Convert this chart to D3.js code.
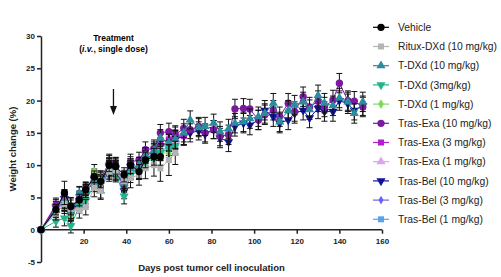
<html>
	<head>
		<script type="text/javascript" src="https://cdn.jsdelivr.net/npm/d3@7/dist/d3.min.js"></script>
		<style>
			body{ margin:0; background:#fff; }
			svg{ font-family:"Liberation Sans", Arial, sans-serif; }
			.axis path, .axis line{ stroke:#222; stroke-width:1.5; }
			.axis text{ font-size:8px; font-weight:bold; fill:#222; }
		</style>
	</head>
	<body>
		<div id="container"></div>
		<script type="text/javascript">

			// measurement days (twice weekly)
			var days = [0,7,11,14,18,21,25,28,32,35,39,42,46,49,53,56,60,63,67,70,74,77,81,84,88,91,95,98,102,105,109,112,116,119,123,126,130,133,137,140,144,147,151];

			var vehicle    = [0,3.1,5.7,3.6,4.6,6.2,8.2,7.5,10.0,9.8,8.5,10.0,9.0,10.8,11.3,11.3];
			var vehicleErr = [0,0.8,1.8,1.3,0.9,0.9,0.9,1.0,1.0,1.2,1.1,1.3,1.1,1.2,1.3,1.3];

			var rituxDXd    = [0,2.5,4.0,3.2,3.0,3.5,6.5,6.0,9.0,9.0,7.5,8.0,8.5,9.5,10.0,9.5,10.8,11.9];
			var rituxDXdErr = [0,1.0,1.5,1.8,1.2,1.2,1.4,1.3,1.5,1.6,1.4,1.5,1.6,1.6,1.7,2.0,2.4,1.8];

			var tdxd10 = [0,3.0,4.5,2.8,5.7,6.0,7.5,6.0,9.5,9.0,7.2,9.5,10.0,11.5,12.3,14.2,13.5,14.0,15.0,17.0,15.8,16.0,16.5,15.2,15.6,16.5,16.7,17.2,17.5,18.0,19.6,16.7,18.5,19.3,19.8,18.6,20.8,19.6,19.2,20.4,19.8,18.0,19.8];
			var tdxd3  = [0,1.3,1.8,0.6,3.6,4.5,7.0,7.2,9.0,8.8,5.2,8.5,9.0,10.5,11.0,12.0,12.5,13.0];
			var tdxd1  = [0,2.5,4.0,2.0,4.0,5.0,9.0,8.0,9.5,9.2,7.5,9.0,9.5,11.0,11.0,12.0,11.8,13.0];

			var trasExa10 = [0,3.8,5.0,3.0,4.8,6.3,8.3,8.0,10.3,10.0,7.0,10.5,10.8,12.4,12.6,15.0,15.2,14.7,15.7,15.5,16.0,15.0,15.5,14.5,14.7,18.7,18.8,18.7,17.0,17.8,18.5,17.5,19.6,18.3,20.6,19.0,19.9,19.0,20.1,22.7,20.0,19.9,19.0];
			var trasExa3  = [0,3.5,4.2,2.6,4.0,5.8,7.5,7.5,10.0,9.5,6.5,9.2,9.0,11.5,12.0,13.5,14.0,14.5,14.5];
			var trasExa1  = [0,4.0,5.0,3.5,5.0,6.0,8.0,7.8,10.5,10.0,7.8,9.8,10.0,11.5,12.0,12.5,13.5,13.8];

			var trasBel10 = [0,3.5,4.8,2.5,4.5,5.5,7.8,7.0,9.8,9.5,6.0,9.8,9.5,11.0,11.5,13.0,13.5,14.0,14.5,15.0,15.3,14.8,15.5,14.2,13.6,16.0,16.5,16.2,17.0,18.5,17.5,16.5,17.0,18.0,18.5,17.3,18.8,18.3,18.3,20.0,19.5,18.5,19.2];
			var trasBel3  = [0,3.2,4.6,3.0,4.4,5.8,7.8,7.4,9.6,9.4,7.2,9.6,9.4,11.2,11.6,12.8,13.4,14.0,14.6];
			var trasBel1  = [0,2.8,4.2,2.4,5.6,6.4,7.6,7.0,9.2,9.6,8.0,9.0,9.2,10.8,11.2,12.2,12.8,13.2];

			// typical SEM per day for the treated groups
			var semTreated = [0,0.9,1.2,1.1,1.0,1.0,1.1,1.1,1.2,1.2,1.2,1.2,1.2,1.2,1.3,1.3,1.3,1.4,1.4,1.4,1.4,1.4,1.4,1.5,1.5,1.5,1.5,1.5,1.5,1.5,1.5,1.5,1.5,1.5,1.5,1.5,1.6,1.5,1.5,1.5,1.5,1.5,1.5];

			var groupNames = ["Vehicle","Ritux-DXd (10 mg/kg)","T-DXd (10 mg/kg)","T-DXd (3mg/kg)","T-DXd (1 mg/kg)","Tras-Exa (10 mg/kg)","Tras-Exa (3 mg/kg)","Tras-Exa (1 mg/kg)","Tras-Bel (10 mg/kg)","Tras-Bel (3 mg/kg)","Tras-Bel (1 mg/kg)"];

			var xTicks = [20,40,60,80,100,120,140,160];
			var yTicks = [-5,0,5,10,15,20,25,30];
			var treatmentDay = 34;

			var series = [
				{name:groupNames[0],  values:vehicle,   err:vehicleErr,  color:"#000000", shape:"circle",   size:42},
				{name:groupNames[1],  values:rituxDXd,  err:rituxDXdErr, color:"#b4b4b4", shape:"square",   size:36},
				{name:groupNames[2],  values:tdxd10,    err:semTreated,  color:"#2a8c9c", shape:"triangle", size:36},
				{name:groupNames[3],  values:tdxd3,     err:semTreated,  color:"#26b38c", shape:"tridown",  size:36},
				{name:groupNames[4],  values:tdxd1,     err:semTreated,  color:"#7fd85a", shape:"diamond",  size:28},
				{name:groupNames[5],  values:trasExa10, err:semTreated,  color:"#7a1aa0", shape:"circle",   size:42},
				{name:groupNames[6],  values:trasExa3,  err:semTreated,  color:"#b21ed0", shape:"square",   size:36},
				{name:groupNames[7],  values:trasExa1,  err:semTreated,  color:"#dba4ee", shape:"triangle", size:36},
				{name:groupNames[8],  values:trasBel10, err:semTreated,  color:"#12129c", shape:"tridown",  size:36},
				{name:groupNames[9],  values:trasBel3,  err:semTreated,  color:"#6a62f0", shape:"diamond",  size:22},
				{name:groupNames[10], values:trasBel1,  err:semTreated,  color:"#5aa2ee", shape:"square",   size:36}
			];

			var svg = d3.select("#container").append("svg")
				.attr("width", 501)
				.attr("height", 277);

			var x = d3.scaleLinear().domain([0,160]).range([41,382]);
			var y = d3.scaleLinear().domain([-5,30]).range([262,36]);

			function symbolPath(shape, size){
				var t = {circle:d3.symbolCircle, square:d3.symbolSquare, triangle:d3.symbolTriangle,
					tridown:d3.symbolTriangle, diamond:d3.symbolDiamond}[shape];
				return d3.symbol().type(t).size(size)();
			}
			function symbolTransform(shape, px, py){
				return "translate(" + px + "," + py + ")" + (shape === "tridown" ? " rotate(180)" : "");
			}

			// axes
			svg.append("g")
				.attr("class","axis")
				.attr("transform","translate(41,0)")
				.call(d3.axisLeft(y).tickValues(yTicks).tickSize(4).tickPadding(2).tickSizeOuter(0)
					.tickFormat(function(d){ return String(d); }));

			svg.append("g")
				.attr("class","axis")
				.attr("transform","translate(0," + y(0) + ")")
				.call(d3.axisBottom(x).tickValues(xTicks).tickSize(4).tickPadding(3).tickSizeOuter(0))
				.call(function(g){ g.select(".domain").attr("d","M" + x(0) + ",0H" + x(160)); })
				.selectAll("text").attr("dy","0.9em");

			svg.append("text")
				.attr("transform","translate(16," + ((y(30)+y(-5))/2) + ") rotate(-90)")
				.attr("text-anchor","middle")
				.style("font-size","9.5px").style("font-weight","bold").style("fill","#222")
				.text("Weight change (%)");

			svg.append("text")
				.attr("x", (x(0)+x(160))/2).attr("y", 271)
				.attr("text-anchor","middle")
				.style("font-size","9.5px").style("font-weight","bold").style("fill","#222")
				.text("Days post tumor cell inoculation");

			// treatment annotation
			var tx = x(treatmentDay);
			svg.append("text").attr("x", tx).attr("y", 41)
				.attr("text-anchor","middle")
				.style("font-size","8.5px").style("font-weight","bold")
				.text("Treatment");
			var t2 = svg.append("text").attr("x", tx).attr("y", 52)
				.attr("text-anchor","middle")
				.style("font-size","8.5px").style("font-weight","bold");
			t2.append("tspan").text("(");
			t2.append("tspan").style("font-style","italic").text("i.v.");
			t2.append("tspan").text(", single dose)");
			svg.append("line").attr("x1", tx).attr("x2", tx).attr("y1", 89).attr("y2", 108)
				.attr("stroke","#111").attr("stroke-width",1.3);
			svg.append("path").attr("d","M" + (tx-3.5) + ",106L" + (tx+3.5) + ",106L" + tx + ",115Z")
				.attr("fill","#111");

			// data, drawn last-to-first so Vehicle sits on top
			var line = d3.line()
				.x(function(d){ return x(d.day); })
				.y(function(d){ return y(d.v); });

			series.slice().reverse().forEach(function(s){
				var pts = s.values.map(function(v,i){ return {day:days[i], v:v, e:s.err[i]}; });
				var g = svg.append("g");

				g.append("path").datum(pts)
					.attr("d", line)
					.attr("fill","none")
					.attr("stroke", s.color)
					.attr("stroke-width",1);

				g.selectAll(".eb").data(pts.filter(function(d){ return d.e > 0; })).enter().append("path")
					.attr("d", function(d){
						var px = x(d.day), y1 = y(d.v + d.e), y2 = y(d.v - d.e);
						return "M" + px + "," + y1 + "V" + y2 +
							"M" + (px-3) + "," + y1 + "H" + (px+3) +
							"M" + (px-3) + "," + y2 + "H" + (px+3);
					})
					.attr("stroke","#111")
					.attr("stroke-width",1)
					.attr("fill","none");

				g.selectAll(".pt").data(pts).enter().append("path")
					.attr("d", symbolPath(s.shape, s.size))
					.attr("transform", function(d){ return symbolTransform(s.shape, x(d.day), y(d.v)); })
					.attr("fill", s.color);
			});

			// legend
			var legend = svg.append("g");
			series.forEach(function(s, i){
				var ly = 27.3 + i*19.2;
				legend.append("line").attr("x1",373).attr("x2",389).attr("y1",ly).attr("y2",ly)
					.attr("stroke", s.color).attr("stroke-width",1.2);
				legend.append("path").attr("d", symbolPath(s.shape, s.size))
					.attr("transform", symbolTransform(s.shape, 381, ly))
					.attr("fill", s.color);
				legend.append("text").attr("x",398).attr("y",ly).attr("dy","0.35em")
					.style("font-size","10.3px").style("fill","#222")
					.text(s.name);
			});

		</script>
	</body>
</html>
